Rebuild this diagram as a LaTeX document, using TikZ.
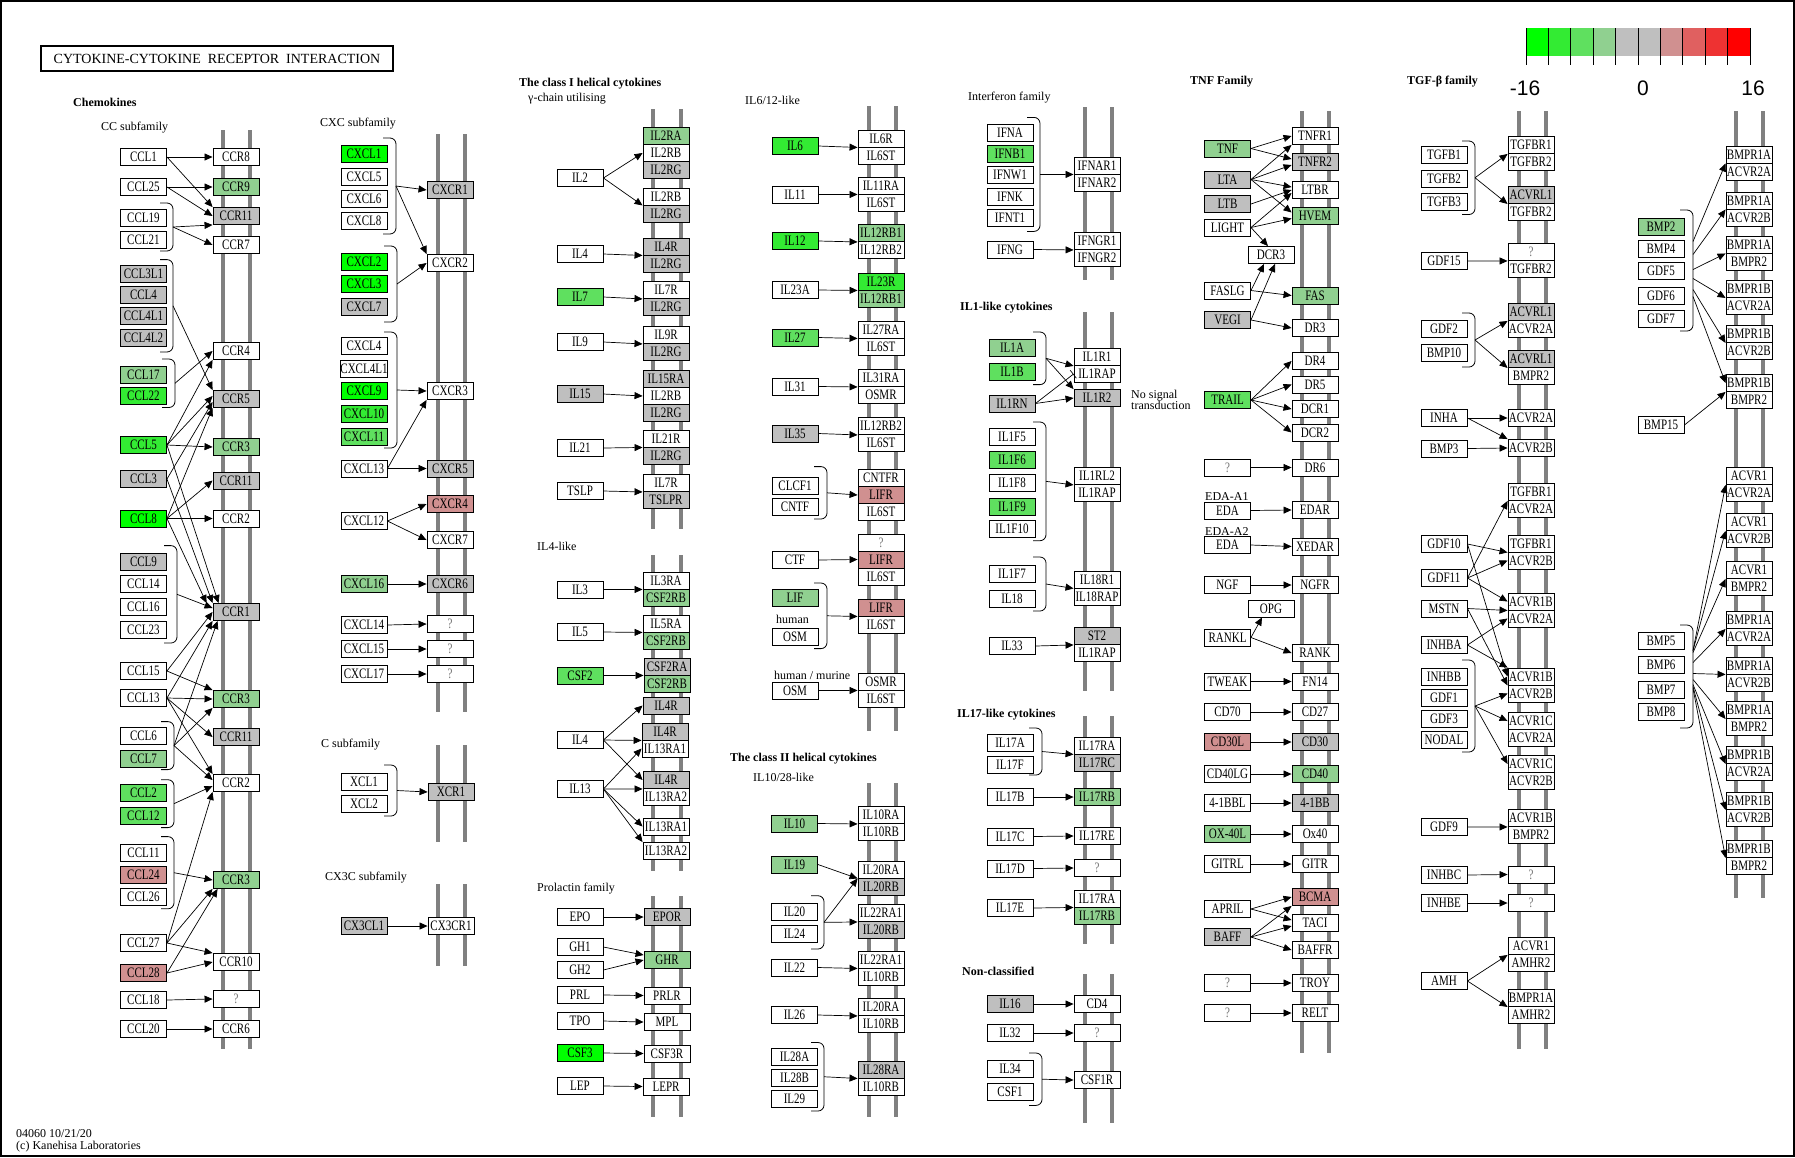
\documentclass[tikz,border=0pt]{standalone}
\usepackage{fontspec}
\setmainfont{Liberation Serif}
\newfontfamily\legfont{Liberation Sans}
\usepackage{graphicx}
\usetikzlibrary{arrows.meta}
\definecolor{ga}{RGB}{0,255,0}
\definecolor{gb}{RGB}{51,235,51}
\definecolor{gc}{RGB}{95,224,95}
\definecolor{gd}{RGB}{144,208,144}
\definecolor{gy}{RGB}{191,191,191}
\definecolor{ra}{RGB}{208,144,144}
\definecolor{rb}{RGB}{224,96,96}
\definecolor{rc}{RGB}{238,50,50}
\definecolor{rd}{RGB}{255,0,0}
\definecolor{memc}{RGB}{128,128,128}
\tikzset{
  bx/.style={draw,line width=0.9pt,minimum width=46pt,minimum height=17pt,inner sep=0pt,font=\fontsize{12}{12}\selectfont},
  ar/.style={-{Triangle[length=8pt,width=7pt]},line width=0.7pt},
  tbar/.style={-{Bar[width=10pt]},line width=0.7pt},
  brk/.style={line width=0.8pt,rounded corners=6pt},
  memb/.style={line width=4pt,draw=memc},
  lab/.style={anchor=west,inner sep=0pt,font=\fontsize{12}{12}\selectfont},
  blab/.style={anchor=west,inner sep=0pt,font=\bfseries\fontsize{12}{12}\selectfont},
  leg/.style={inner sep=0pt,font=\legfont\fontsize{21}{21}\selectfont},
}
\newcommand\kbox[5]{\node[bx,fill=#5] (#1) at (#2,#3) {\scalebox{0.92}[1.2]{#4}};}
\newcommand\kq[3]{\node[bx,fill=white,text=black!55] (#1) at (#2,#3) {\scalebox{0.92}[1.2]{?}};}
\newcommand\kmem[4]{\draw[memb] (#1,#3) -- (#1,#4); \draw[memb] (#2,#3) -- (#2,#4);}
\newcommand\kbr[4]{\draw[brk] ({#2-13},#3) -- (#2,#3) -- (#2,#4) -- ({#2-13},#4); \coordinate (#1) at (#2,{(#3+#4)/2});}
\newcommand\ka[2]{\draw[ar] (#1) -- (#2);}
\begin{document}
\begin{tikzpicture}[x=1pt,y=-1pt]
\useasboundingbox (0,0) rectangle (1795,1157);
\fill[white] (0,0) rectangle (1795,1157);
\draw[line width=2pt] (1,1) rectangle (1794,1156);
% ---------- membranes
\kmem{223}{250}{130}{1049}
\kmem{438}{465}{134}{712}
\kmem{438}{465}{745}{842}
\kmem{438}{465}{884}{966}
\kmem{653}{681}{109}{529}
\kmem{653}{681}{555}{871}
\kmem{653}{681}{896}{1117}
\kmem{869}{896}{106}{731}
\kmem{869}{896}{783}{1117}
\kmem{1085}{1112}{107}{280}
\kmem{1085}{1112}{312}{691}
\kmem{1085}{1112}{716}{944}
\kmem{1085}{1112}{974}{1123}
\kmem{1302}{1329}{111}{1053}
\kmem{1519}{1546}{111}{1049}
\kmem{1736}{1763}{111}{898}
% ---------- title and labels
\node[draw,line width=1.6pt,minimum width=352pt,minimum height=25pt,inner sep=0pt,font=\fontsize{14}{14}\selectfont] (title) at (217,58.5) {CYTOKINE-CYTOKINE\ \ RECEPTOR\ \ INTERACTION};
\node[blab] (lchem) at (73,102) {Chemokines};
\node[lab] (lcc) at (101,128) {CC subfamily};
\node[lab] (lcxc) at (320,124) {CXC subfamily};
\node[lab] (lc) at (321,745) {C subfamily};
\node[lab] (lcx3c) at (325,878) {CX3C subfamily};
\node[blab] (lcl1) at (519,83.5) {The class I helical cytokines};
\node[lab] (lgam) at (528,99) {γ-chain utilising};
\node[lab] (lil4) at (537,546) {IL4-like};
\node[lab] (lprl) at (537,889) {Prolactin family};
\node[lab] (lil6) at (745,100) {IL6/12-like};
\node[lab] (lhum) at (776,619) {human};
\node[lab] (lhm) at (774,675) {human / murine};
\node[blab] (lcl2) at (730,759) {The class II helical cytokines};
\node[lab] (lil10) at (753,777) {IL10/28-like};
\node[lab] (lifn) at (968,98) {Interferon family};
\node[blab] (lil1) at (960,308) {IL1-like cytokines};
\node[lab,align=left,font=\fontsize{12}{11.5}\selectfont] (lnst) at (1131,400) {No signal\\transduction};
\node[blab] (lil17) at (957,715) {IL17-like cytokines};
\node[blab] (lnon) at (962,971) {Non-classified};
\node[blab] (ltnf) at (1190,82) {TNF Family};
\node[blab] (ltgf) at (1407,82) {TGF-β family};
\node[lab] (leda1) at (1205,497) {EDA-A1};
\node[lab] (leda2) at (1205,532) {EDA-A2};
\node[lab,align=left,font=\fontsize{12}{12}\selectfont] (foot) at (16,1140.5) {04060 10/21/20\\(c) Kanehisa Laboratories};
% ---------- legend
\foreach \c [count=\i from 0] in {ga,gb,gc,gd,gy,gy,ra,rb,rc,rd}
  \fill[\c] ({1526+\i*22.4},28) rectangle ({1526+(\i+1)*22.4},56.4);
\foreach \i in {0,...,10} \draw[line width=1pt] ({1526+\i*22.4},28) -- ({1526+\i*22.4},64.7);
\node[leg] (lgm) at (1525,88) {-16};
\node[leg] (lg0) at (1643,88) {0};
\node[leg] (lgp) at (1753,88) {16};
% ========== COLUMN 1: CC
\kbox{CCL1}{143.5}{157}{CCL1}{white}
\kbox{CCL25}{143.5}{187}{CCL25}{white}
\kbox{CCL19}{143.5}{217.5}{CCL19}{white}
\kbox{CCL21}{143.5}{240}{CCL21}{white}
\kbox{CCL3L1}{143.5}{274}{CCL3L1}{gy}
\kbox{CCL4}{143.5}{295}{CCL4}{gy}
\kbox{CCL4L1}{143.5}{316}{CCL4L1}{gy}
\kbox{CCL4L2}{143.5}{338}{CCL4L2}{gy}
\kbox{CCL17}{143.5}{375}{CCL17}{gd}
\kbox{CCL22}{143.5}{396}{CCL22}{gb}
\kbox{CCL5}{143.5}{445}{CCL5}{gb}
\kbox{CCL3}{143.5}{479}{CCL3}{gy}
\kbox{CCL8}{143.5}{518.5}{CCL8}{ga}
\kbox{CCL9}{143.5}{562}{CCL9}{gy}
\kbox{CCL14}{143.5}{584}{CCL14}{white}
\kbox{CCL16}{143.5}{607}{CCL16}{white}
\kbox{CCL23}{143.5}{630}{CCL23}{white}
\kbox{CCL15}{143.5}{671}{CCL15}{white}
\kbox{CCL13}{143.5}{698}{CCL13}{white}
\kbox{CCL6}{143.5}{736}{CCL6}{white}
\kbox{CCL7}{143.5}{759}{CCL7}{gd}
\kbox{CCL2}{143.5}{793}{CCL2}{gc}
\kbox{CCL12}{143.5}{816}{CCL12}{gc}
\kbox{CCL11}{143.5}{853}{CCL11}{white}
\kbox{CCL24}{143.5}{875}{CCL24}{ra}
\kbox{CCL26}{143.5}{897}{CCL26}{white}
\kbox{CCL27}{143.5}{943}{CCL27}{white}
\kbox{CCL28}{143.5}{973}{CCL28}{ra}
\kbox{CCL18}{143.5}{1000}{CCL18}{white}
\kbox{CCL20}{143.5}{1029}{CCL20}{white}
\kbox{CCR8}{236}{157}{CCR8}{white}
\kbox{CCR9}{236}{187}{CCR9}{gd}
\kbox{CCR11}{236}{216}{CCR11}{gy}
\kbox{CCR7}{236}{245}{CCR7}{white}
\kbox{CCR4}{236}{351}{CCR4}{white}
\kbox{CCR5}{236}{399}{CCR5}{gy}
\kbox{CCR3}{236}{447}{CCR3}{gd}
\kbox{CCR11b}{236}{480.5}{CCR11}{gy}
\kbox{CCR2}{236}{518.5}{CCR2}{white}
\kbox{CCR1}{236}{612}{CCR1}{gy}
\kbox{CCR3b}{236}{699}{CCR3}{gd}
\kbox{CCR11c}{236}{737}{CCR11}{gy}
\kbox{CCR2b}{236}{783}{CCR2}{white}
\kbox{CCR3c}{236}{880}{CCR3}{gd}
\kbox{CCR10}{236}{962}{CCR10}{white}
\kq{QCC}{236}{999}
\kbox{CCR6}{236}{1029}{CCR6}{white}
\kbr{b1}{173}{203}{251}
\kbr{b2}{173}{259.6}{352}
\kbr{b3}{175}{359}{407.5}
\kbr{b4}{177}{545.6}{643}
\kbr{b5}{174}{721.6}{769.6}
\kbr{b6}{174}{779.7}{827.6}
\kbr{b7}{174}{836.6}{908.8}
\ka{CCL1.east}{CCR8.west}
\ka{CCL1.east}{CCR11.north west}
\ka{CCL25.east}{CCR9.west}
\ka{CCL25.east}{CCR11.west}
\ka{b1}{CCR11.south west}
\ka{b1}{CCR7.west}
\ka{b2}{CCR5.north west}
\ka{b3}{CCR4.west}
\ka{CCL5.east}{CCR4.south west}
\ka{CCL5.east}{[yshift=3pt]CCR5.west}
\ka{CCL5.east}{CCR3.west}
\ka{CCL5.east}{[xshift=6pt]CCR1.north west}
\ka{CCL3.east}{[yshift=-3pt]CCR5.west}
\ka{CCL3.east}{CCR1.north west}
\ka{CCL8.east}{CCR5.south west}
\ka{CCL8.east}{CCR11b.west}
\ka{CCL8.east}{CCR2.west}
\ka{CCL8.east}{[xshift=-6pt]CCR1.north west}
\ka{b4}{[yshift=4pt]CCR1.west}
\ka{CCL15.east}{CCR1.west}
\ka{CCL13.east}{CCR1.south west}
\ka{b5}{[xshift=5pt]CCR1.south west}
\ka{CCL15.east}{CCR3b.north west}
\ka{CCL13.east}{CCR3b.west}
\ka{CCL13.east}{CCR11c.west}
\ka{CCL13.east}{CCR2b.north west}
\ka{b5}{CCR3b.south west}
\ka{b5}{[yshift=3pt]CCR2b.west}
\ka{b6}{[yshift=-3pt]CCR2b.west}
\ka{CCL27.east}{CCR2b.south west}
\ka{b7}{CCR3c.west}
\ka{CCL27.east}{CCR3c.south west}
\ka{CCL28.east}{[xshift=5pt]CCR3c.south west}
\ka{CCL27.east}{CCR10.north west}
\ka{CCL28.east}{CCR10.west}
\ka{CCL18.east}{QCC.west}
\ka{CCL20.east}{CCR6.west}
% ========== COLUMN 2: CXC, C, CX3C
\kbox{CXCL1}{364}{154}{CXCL1}{ga}
\kbox{CXCL5}{364}{177}{CXCL5}{white}
\kbox{CXCL6}{364}{199}{CXCL6}{white}
\kbox{CXCL8}{364}{221}{CXCL8}{white}
\kbox{CXCL2}{364}{262}{CXCL2}{ga}
\kbox{CXCL3}{364}{284}{CXCL3}{ga}
\kbox{CXCL7}{364}{307}{CXCL7}{gy}
\kbox{CXCL4}{364}{346}{CXCL4}{white}
\kbox{CXCL4L1}{364}{369}{CXCL4L1}{white}
\kbox{CXCL9}{364}{391}{CXCL9}{ga}
\kbox{CXCL10}{364}{414}{CXCL10}{gb}
\kbox{CXCL11}{364}{437}{CXCL11}{gc}
\kbox{CXCL13}{364}{468.5}{CXCL13}{white}
\kbox{CXCL12}{364}{521}{CXCL12}{white}
\kbox{CXCL16}{364}{584}{CXCL16}{gd}
\kbox{CXCL14}{364}{625}{CXCL14}{white}
\kbox{CXCL15}{364}{649}{CXCL15}{white}
\kbox{CXCL17}{364}{674}{CXCL17}{white}
\kbox{XCL1}{364}{781.5}{XCL1}{white}
\kbox{XCL2}{364}{804}{XCL2}{white}
\kbox{CX3CL1}{364}{926}{CX3CL1}{gy}
\kbox{CXCR1}{450}{190}{CXCR1}{gy}
\kbox{CXCR2}{450}{263}{CXCR2}{white}
\kbox{CXCR3}{450}{391}{CXCR3}{white}
\kbox{CXCR5}{450}{468.5}{CXCR5}{gy}
\kbox{CXCR4}{450}{504}{CXCR4}{ra}
\kbox{CXCR7}{450}{540}{CXCR7}{white}
\kbox{CXCR6}{450}{584}{CXCR6}{gy}
\kq{QX1}{450}{624}
\kq{QX2}{450}{649}
\kq{QX3}{450}{674}
\kbox{XCR1}{451}{792}{XCR1}{gy}
\kbox{CX3CR1}{451}{926}{CX3CR1}{white}
\kbr{c1}{396}{138}{234}
\kbr{c2}{397}{246}{322}
\kbr{c3}{397}{332}{448}
\kbr{c4}{397}{765}{816}
\ka{c1}{CXCR1.west}
\ka{c1}{CXCR2.north west}
\ka{c2}{CXCR2.west}
\ka{c3}{CXCR3.west}
\ka{CXCL13.east}{CXCR3.south west}
\ka{CXCL13.east}{CXCR5.west}
\ka{CXCL12.east}{CXCR4.west}
\ka{CXCL12.east}{CXCR7.west}
\ka{CXCL16.east}{CXCR6.west}
\ka{CXCL14.east}{QX1.west}
\ka{CXCL15.east}{QX2.west}
\ka{CXCL17.east}{QX3.west}
\ka{c4}{XCR1.west}
\ka{CX3CL1.east}{CX3CR1.west}
% ========== COLUMN 3: class I helical
\kbox{IL2}{580}{178}{IL2}{white}
\kbox{IL4}{580}{254}{IL4}{white}
\kbox{IL7}{580}{297}{IL7}{gc}
\kbox{IL9}{580}{342}{IL9}{white}
\kbox{IL15}{580}{394}{IL15}{gy}
\kbox{IL21}{580}{448}{IL21}{white}
\kbox{TSLP}{580}{491}{TSLP}{white}
\kbox{IL3}{580}{589.5}{IL3}{white}
\kbox{IL5}{580}{632}{IL5}{white}
\kbox{CSF2}{580}{675.5}{CSF2}{gc}
\kbox{IL4b}{580}{740}{IL4}{white}
\kbox{IL13}{580}{789}{IL13}{white}
\kbox{EPO}{580}{917}{EPO}{white}
\kbox{GH1}{580}{947}{GH1}{white}
\kbox{GH2}{580}{970}{GH2}{white}
\kbox{PRL}{580}{995}{PRL}{white}
\kbox{TPO}{580}{1021}{TPO}{white}
\kbox{CSF3}{580}{1053}{CSF3}{ga}
\kbox{LEP}{580}{1086}{LEP}{white}
\kbox{p1a}{666}{136}{IL2RA}{gd}
\kbox{p1b}{666}{153}{IL2RB}{white}
\kbox{p1c}{666}{170}{IL2RG}{gy}
\kbox{p2a}{666}{196.5}{IL2RB}{white}
\kbox{p2b}{666}{213.5}{IL2RG}{gy}
\kbox{p3a}{666}{246.5}{IL4R}{gy}
\kbox{p3b}{666}{263.5}{IL2RG}{gy}
\kbox{p4a}{666}{290}{IL7R}{white}
\kbox{p4b}{666}{307}{IL2RG}{gy}
\kbox{p5a}{666}{335}{IL9R}{white}
\kbox{p5b}{666}{352}{IL2RG}{gy}
\kbox{p6a}{666}{379}{IL15RA}{gy}
\kbox{p6b}{666}{396}{IL2RB}{white}
\kbox{p6c}{666}{413}{IL2RG}{gy}
\kbox{p7a}{666}{438.5}{IL21R}{white}
\kbox{p7b}{666}{455.5}{IL2RG}{gy}
\kbox{p8a}{666}{483}{IL7R}{white}
\kbox{p8b}{666}{500}{TSLPR}{gy}
\kbox{q1a}{666}{580.5}{IL3RA}{white}
\kbox{q1b}{666}{597.5}{CSF2RB}{gd}
\kbox{q2a}{666}{623.5}{IL5RA}{white}
\kbox{q2b}{666}{640.5}{CSF2RB}{gd}
\kbox{q3a}{667}{666.5}{CSF2RA}{gy}
\kbox{q3b}{667}{683.5}{CSF2RB}{gd}
\kbox{q4}{666}{705.5}{IL4R}{gy}
\kbox{q5a}{665}{731.5}{IL4R}{gy}
\kbox{q5b}{665}{748.5}{IL13RA1}{white}
\kbox{q6a}{666}{780}{IL4R}{gy}
\kbox{q6b}{666}{797}{IL13RA2}{white}
\kbox{q7}{666}{826.5}{IL13RA1}{white}
\kbox{q8}{666}{851}{IL13RA2}{white}
\kbox{EPOR}{667}{917}{EPOR}{gy}
\kbox{GHR}{667}{960}{GHR}{gd}
\kbox{PRLR}{667}{995.5}{PRLR}{white}
\kbox{MPL}{667}{1022}{MPL}{white}
\kbox{CSF3R}{667}{1053.5}{CSF3R}{white}
\kbox{LEPR}{666}{1086.5}{LEPR}{white}
\ka{IL2.east}{p1b.west}
\ka{IL2.east}{p2a.south west}
\ka{IL4.east}{p3a.south west}
\ka{IL7.east}{p4a.south west}
\ka{IL9.east}{p5a.south west}
\ka{IL15.east}{p6b.west}
\ka{IL21.east}{p7a.south west}
\ka{TSLP.east}{p8a.south west}
\ka{IL3.east}{q1a.south west}
\ka{IL5.east}{q2a.south west}
\ka{CSF2.east}{q3a.south west}
\ka{IL4b.east}{q4.west}
\ka{IL4b.east}{q5a.south west}
\ka{IL4b.east}{q6a.west}
\ka{IL13.east}{q5b.west}
\ka{IL13.east}{q6a.south west}
\ka{IL13.east}{q7.west}
\ka{IL13.east}{q8.north west}
\ka{EPO.east}{EPOR.west}
\ka{GH1.east}{[yshift=5pt]GHR.west}
\ka{GH2.east}{GHR.west}
\ka{PRL.east}{PRLR.west}
\ka{TPO.east}{MPL.west}
\ka{CSF3.east}{CSF3R.west}
\ka{LEP.east}{LEPR.west}
% ========== COLUMN 4: IL6/12, class II
\kbox{IL6}{795}{146}{IL6}{gb}
\kbox{IL11}{795}{194.5}{IL11}{white}
\kbox{IL12}{795}{241}{IL12}{gb}
\kbox{IL23A}{795}{290}{IL23A}{white}
\kbox{IL27}{795}{337.5}{IL27}{gc}
\kbox{IL31}{795}{386.5}{IL31}{white}
\kbox{IL35}{795}{433.5}{IL35}{gy}
\kbox{CLCF1}{795}{485.5}{CLCF1}{white}
\kbox{CNTF}{795}{507}{CNTF}{white}
\kbox{CTF}{795}{560}{CTF}{white}
\kbox{LIF}{795}{598}{LIF}{gd}
\kbox{OSM}{795}{636.5}{OSM}{white}
\kbox{OSM2}{795}{690.5}{OSM}{white}
\kbox{IL10}{794.5}{823.5}{IL10}{gd}
\kbox{IL19}{794.5}{864.5}{IL19}{gd}
\kbox{IL20}{794.5}{912}{IL20}{white}
\kbox{IL24}{794.5}{934}{IL24}{white}
\kbox{IL22}{794.5}{967.5}{IL22}{white}
\kbox{IL26}{794.5}{1015}{IL26}{white}
\kbox{IL28A}{794.5}{1056.5}{IL28A}{white}
\kbox{IL28B}{794.5}{1078}{IL28B}{white}
\kbox{IL29}{794.5}{1099}{IL29}{white}
\kbox{e1a}{881}{138.5}{IL6R}{white}
\kbox{e1b}{881}{155.5}{IL6ST}{white}
\kbox{e2a}{881}{185.5}{IL11RA}{white}
\kbox{e2b}{881}{202.5}{IL6ST}{white}
\kbox{e3a}{881}{233}{IL12RB1}{gd}
\kbox{e3b}{881}{250}{IL12RB2}{white}
\kbox{e4a}{881}{281.5}{IL23R}{gb}
\kbox{e4b}{881}{298.5}{IL12RB1}{gd}
\kbox{e5a}{881}{329.5}{IL27RA}{white}
\kbox{e5b}{881}{346.5}{IL6ST}{white}
\kbox{e6a}{881}{378}{IL31RA}{white}
\kbox{e6b}{881}{395}{OSMR}{white}
\kbox{e7a}{881}{426}{IL12RB2}{white}
\kbox{e7b}{881}{443}{IL6ST}{white}
\kbox{e8a}{881}{478}{CNTFR}{white}
\kbox{e8b}{881}{495}{LIFR}{ra}
\kbox{e8c}{881}{512}{IL6ST}{white}
\kq{e9a}{881}{542.5}
\kbox{e9b}{881}{559.5}{LIFR}{ra}
\kbox{e9c}{881}{576.5}{IL6ST}{white}
\kbox{e10a}{881}{607.5}{LIFR}{ra}
\kbox{e10b}{881}{624.5}{IL6ST}{white}
\kbox{e11a}{881}{681.5}{OSMR}{white}
\kbox{e11b}{881}{698.5}{IL6ST}{white}
\kbox{g1a}{881}{815}{IL10RA}{white}
\kbox{g1b}{881}{832}{IL10RB}{white}
\kbox{g2a}{881}{869.5}{IL20RA}{white}
\kbox{g2b}{881}{886.5}{IL20RB}{gy}
\kbox{g3a}{881}{913}{IL22RA1}{white}
\kbox{g3b}{881}{930}{IL20RB}{gy}
\kbox{g4a}{881}{959.5}{IL22RA1}{white}
\kbox{g4b}{881}{976.5}{IL10RB}{white}
\kbox{g5a}{881}{1007}{IL20RA}{white}
\kbox{g5b}{881}{1024}{IL10RB}{white}
\kbox{g6a}{881}{1069.5}{IL28RA}{gy}
\kbox{g6b}{881}{1086.5}{IL10RB}{white}
\kbr{f1}{827}{466.6}{519}
\kbr{f2}{827}{583}{648.6}
\kbr{f3}{824}{895.7}{949}
\kbr{f4}{824}{1042.5}{1111}
\ka{IL6.east}{e1a.south west}
\ka{IL11.east}{e2a.south west}
\ka{IL12.east}{e3a.south west}
\ka{IL23A.east}{e4a.south west}
\ka{IL27.east}{e5a.south west}
\ka{IL31.east}{e6a.south west}
\ka{IL35.east}{e7a.south west}
\ka{f1}{e8b.west}
\ka{CTF.east}{e9b.west}
\ka{f2}{e10a.south west}
\ka{OSM2.east}{e11a.south west}
\ka{IL10.east}{g1a.south west}
\ka{IL19.east}{g2a.south west}
\ka{f3}{g2a.south west}
\ka{f3}{g3a.south west}
\ka{IL22.east}{g4a.south west}
\ka{IL26.east}{g5a.south west}
\ka{f4}{g6a.south west}
% ========== COLUMN 5: IFN, IL1, IL17, non-classified
\kbox{IFNA}{1010}{132.5}{IFNA}{white}
\kbox{IFNB1}{1010}{153.5}{IFNB1}{gc}
\kbox{IFNW1}{1010}{175}{IFNW1}{white}
\kbox{IFNK}{1010}{196.5}{IFNK}{white}
\kbox{IFNT1}{1010}{218}{IFNT1}{white}
\kbox{IFNG}{1010}{249.5}{IFNG}{white}
\kbox{IL1A}{1012}{348}{IL1A}{gd}
\kbox{IL1B}{1012}{372}{IL1B}{gc}
\kbox{IL1RN}{1012}{403.5}{IL1RN}{gy}
\kbox{IL1F5}{1012}{437}{IL1F5}{white}
\kbox{IL1F6}{1012}{460}{IL1F6}{gc}
\kbox{IL1F8}{1012}{482.5}{IL1F8}{white}
\kbox{IL1F9}{1012}{507}{IL1F9}{gc}
\kbox{IL1F10}{1012}{529}{IL1F10}{white}
\kbox{IL1F7}{1012}{574}{IL1F7}{white}
\kbox{IL18}{1012}{599}{IL18}{white}
\kbox{IL33}{1012}{646}{IL33}{white}
\kbox{IL17A}{1010}{743}{IL17A}{white}
\kbox{IL17F}{1010}{765}{IL17F}{white}
\kbox{IL17B}{1010}{797}{IL17B}{white}
\kbox{IL17C}{1010}{836.5}{IL17C}{white}
\kbox{IL17D}{1010}{868.5}{IL17D}{white}
\kbox{IL17E}{1010}{908}{IL17E}{white}
\kbox{IL16}{1010}{1004}{IL16}{gy}
\kbox{IL32}{1010}{1033}{IL32}{white}
\kbox{IL34}{1010}{1068.5}{IL34}{white}
\kbox{CSF1}{1010}{1091.5}{CSF1}{white}
\kbox{h1a}{1097}{165.5}{IFNAR1}{white}
\kbox{h1b}{1097}{182.5}{IFNAR2}{white}
\kbox{h2a}{1097}{241}{IFNGR1}{white}
\kbox{h2b}{1097}{258}{IFNGR2}{white}
\kbox{h3a}{1097}{357}{IL1R1}{white}
\kbox{h3b}{1097}{374}{IL1RAP}{white}
\kbox{IL1R2}{1097}{398}{IL1R2}{gy}
\kbox{h4a}{1097}{476}{IL1RL2}{white}
\kbox{h4b}{1097}{493}{IL1RAP}{white}
\kbox{h5a}{1097}{579.5}{IL18R1}{white}
\kbox{h5b}{1097}{596.5}{IL18RAP}{white}
\kbox{h6a}{1097}{636}{ST2}{gy}
\kbox{h6b}{1097}{653}{IL1RAP}{white}
\kbox{h7a}{1097}{745.5}{IL17RA}{white}
\kbox{h7b}{1097}{762.5}{IL17RC}{gy}
\kbox{IL17RB}{1097}{797}{IL17RB}{gd}
\kbox{IL17RE}{1097}{836}{IL17RE}{white}
\kq{QIL17}{1097}{868}
\kbox{h8a}{1097}{898.5}{IL17RA}{white}
\kbox{h8b}{1097}{915.5}{IL17RB}{gd}
\kbox{CD4}{1097}{1004}{CD4}{white}
\kq{QIL32}{1097}{1033}
\kbox{CSF1R}{1097}{1080}{CSF1R}{white}
\kbr{k1}{1040}{117.4}{231.4}
\kbr{k2}{1046}{332}{384.6}
\kbr{k3}{1046}{422}{540.7}
\kbr{k4}{1046}{557}{611}
\kbr{k5}{1042}{728}{775}
\kbr{k6}{1042}{1053}{1105.4}
\ka{k1}{h1a.south west}
\ka{IFNG.east}{h2a.south west}
\ka{k2}{h3a.south west}
\ka{k2}{IL1R2.north west}
\ka{IL1RN.east}{IL1R2.west}
\draw[tbar] (IL1RN.east) -- (h3b.west);
\ka{k3}{h4a.south west}
\ka{k4}{h5a.south west}
\ka{IL33.east}{h6a.south west}
\ka{k5}{h7a.south west}
\ka{IL17B.east}{IL17RB.west}
\ka{IL17C.east}{IL17RE.west}
\ka{IL17D.east}{QIL17.west}
\ka{IL17E.east}{h8a.south west}
\ka{IL16.east}{CD4.west}
\ka{IL32.east}{QIL32.west}
\ka{k6}{CSF1R.west}
% ========== COLUMN 6: TNF
\kbox{TNF}{1227.5}{148.5}{TNF}{gd}
\kbox{LTA}{1227.5}{179.5}{LTA}{gy}
\kbox{LTB}{1227.5}{204}{LTB}{gy}
\kbox{LIGHT}{1227.5}{227.5}{LIGHT}{white}
\kbox{DCR3}{1271}{255}{DCR3}{white}
\kbox{FASLG}{1227.5}{290.5}{FASLG}{white}
\kbox{VEGI}{1227.5}{320}{VEGI}{gy}
\kbox{TRAIL}{1227.5}{400}{TRAIL}{gc}
\kq{tq1}{1227.5}{467.5}
\kbox{EDA}{1227.5}{510.5}{EDA}{white}
\kbox{EDA2}{1227.5}{545}{EDA}{white}
\kbox{NGF}{1227.5}{585}{NGF}{white}
\kbox{OPG}{1271}{608.5}{OPG}{white}
\kbox{RANKL}{1227.5}{637.5}{RANKL}{white}
\kbox{TWEAK}{1227.5}{681.5}{TWEAK}{white}
\kbox{CD70}{1227.5}{712}{CD70}{white}
\kbox{CD30L}{1227.5}{742}{CD30L}{ra}
\kbox{CD40LG}{1227.5}{774}{CD40LG}{white}
\kbox{BBL}{1227.5}{803}{4-1BBL}{white}
\kbox{OX40L}{1227.5}{834}{OX-40L}{gd}
\kbox{GITRL}{1227.5}{864}{GITRL}{white}
\kbox{APRIL}{1227.5}{909}{APRIL}{white}
\kbox{BAFF}{1227.5}{937}{BAFF}{gy}
\kq{tq2}{1227.5}{983}
\kq{tq3}{1227.5}{1013}
\kbox{TNFR1}{1315}{136}{TNFR1}{white}
\kbox{TNFR2}{1315}{162}{TNFR2}{gy}
\kbox{LTBR}{1315}{190}{LTBR}{white}
\kbox{HVEM}{1315}{215.5}{HVEM}{gd}
\kbox{FAS}{1315}{295.5}{FAS}{gd}
\kbox{DR3}{1315}{328}{DR3}{white}
\kbox{DR4}{1315}{361}{DR4}{white}
\kbox{DR5}{1315}{384.5}{DR5}{white}
\kbox{DCR1}{1315}{409}{DCR1}{white}
\kbox{DCR2}{1315}{432.5}{DCR2}{white}
\kbox{DR6}{1315}{467.5}{DR6}{white}
\kbox{EDAR}{1315}{510}{EDAR}{white}
\kbox{XEDAR}{1315}{546.5}{XEDAR}{white}
\kbox{NGFR}{1315}{585}{NGFR}{white}
\kbox{RANK}{1315}{653}{RANK}{white}
\kbox{FN14}{1315}{681.5}{FN14}{white}
\kbox{CD27}{1315}{712}{CD27}{white}
\kbox{CD30}{1315}{742}{CD30}{gy}
\kbox{CD40}{1315}{774}{CD40}{gd}
\kbox{BB}{1315}{803}{4-1BB}{gy}
\kbox{Ox40}{1315}{834}{Ox40}{white}
\kbox{GITR}{1315}{864}{GITR}{white}
\kbox{BCMA}{1315}{897}{BCMA}{ra}
\kbox{TACI}{1315}{923}{TACI}{white}
\kbox{BAFFR}{1315}{950}{BAFFR}{white}
\kbox{TROY}{1315}{983}{TROY}{white}
\kbox{RELT}{1315}{1013}{RELT}{white}
\ka{TNF.east}{TNFR1.west}
\ka{TNF.east}{[yshift=3pt]TNFR2.west}
\ka{LTA.east}{TNFR1.south west}
\ka{LTA.east}{[yshift=-3pt]TNFR2.west}
\ka{LTA.east}{[yshift=3pt]LTBR.west}
\ka{LTA.east}{[yshift=3pt]HVEM.west}
\ka{LTB.east}{LTBR.west}
\ka{LIGHT.east}{[yshift=-3pt]LTBR.west}
\ka{LIGHT.east}{[yshift=-3pt]HVEM.west}
\ka{LIGHT.east}{[xshift=-3pt]DCR3.north}
\ka{FASLG.east}{[xshift=-7pt]DCR3.south}
\ka{VEGI.east}{[xshift=4pt]DCR3.south}
\ka{FASLG.east}{FAS.west}
\ka{VEGI.east}{DR3.west}
\ka{TRAIL.east}{DR4.west}
\ka{TRAIL.east}{DR5.west}
\ka{TRAIL.east}{DCR1.west}
\ka{TRAIL.east}{DCR2.west}
\ka{tq1.east}{DR6.west}
\ka{EDA.east}{EDAR.west}
\ka{EDA2.east}{XEDAR.west}
\ka{NGF.east}{NGFR.west}
\ka{RANKL.east}{[xshift=-9pt]OPG.south}
\ka{RANKL.east}{RANK.west}
\ka{TWEAK.east}{FN14.west}
\ka{CD70.east}{CD27.west}
\ka{CD30L.east}{CD30.west}
\ka{CD40LG.east}{CD40.west}
\ka{BBL.east}{BB.west}
\ka{OX40L.east}{Ox40.west}
\ka{GITRL.east}{GITR.west}
\ka{APRIL.east}{BCMA.west}
\ka{APRIL.east}{[yshift=3pt]TACI.west}
\ka{BAFF.east}{BCMA.south west}
\ka{BAFF.east}{[yshift=-3pt]TACI.west}
\ka{BAFF.east}{BAFFR.west}
\ka{tq2.east}{TROY.west}
\ka{tq3.east}{RELT.west}
% ========== COLUMN 7: TGF-beta
\kbox{TGFB1}{1444}{154.5}{TGFB1}{white}
\kbox{TGFB2}{1444}{178.5}{TGFB2}{white}
\kbox{TGFB3}{1444}{202}{TGFB3}{white}
\kbox{GDF15}{1444}{261}{GDF15}{white}
\kbox{GDF2}{1444}{329}{GDF2}{white}
\kbox{BMP10}{1444}{352.5}{BMP10}{white}
\kbox{INHA}{1444}{418}{INHA}{white}
\kbox{BMP3}{1444}{448.5}{BMP3}{white}
\kbox{GDF10}{1444}{544}{GDF10}{white}
\kbox{GDF11}{1444}{578}{GDF11}{white}
\kbox{MSTN}{1444}{608.5}{MSTN}{white}
\kbox{INHBA}{1444}{645}{INHBA}{white}
\kbox{INHBB}{1444}{676.5}{INHBB}{white}
\kbox{GDF1}{1444}{697.5}{GDF1}{white}
\kbox{GDF3}{1444}{719}{GDF3}{white}
\kbox{NODAL}{1444}{740}{NODAL}{white}
\kbox{GDF9}{1444}{827}{GDF9}{white}
\kbox{INHBC}{1444}{875}{INHBC}{white}
\kbox{INHBE}{1444}{903}{INHBE}{white}
\kbox{AMH}{1444}{981}{AMH}{white}
\kbox{m1a}{1531}{145}{TGFBR1}{white}
\kbox{m1b}{1531}{162}{TGFBR2}{white}
\kbox{m2a}{1531}{195}{ACVRL1}{gy}
\kbox{m2b}{1531}{212}{TGFBR2}{white}
\kq{m3a}{1531}{252}
\kbox{m3b}{1531}{269}{TGFBR2}{white}
\kbox{m4a}{1531}{312}{ACVRL1}{gy}
\kbox{m4b}{1531}{329}{ACVR2A}{white}
\kbox{m5a}{1531}{359}{ACVRL1}{gy}
\kbox{m5b}{1531}{376}{BMPR2}{white}
\kbox{ACVR2As}{1531}{418}{ACVR2A}{white}
\kbox{ACVR2Bs}{1531}{448}{ACVR2B}{white}
\kbox{m6a}{1531}{492}{TGFBR1}{white}
\kbox{m6b}{1531}{509}{ACVR2A}{white}
\kbox{m7a}{1531}{543.5}{TGFBR1}{white}
\kbox{m7b}{1531}{560.5}{ACVR2B}{white}
\kbox{m8a}{1531}{601.5}{ACVR1B}{white}
\kbox{m8b}{1531}{618.5}{ACVR2A}{white}
\kbox{m9a}{1531}{676.5}{ACVR1B}{white}
\kbox{m9b}{1531}{693.5}{ACVR2B}{white}
\kbox{m10a}{1531}{721}{ACVR1C}{white}
\kbox{m10b}{1531}{738}{ACVR2A}{white}
\kbox{m11a}{1531}{764}{ACVR1C}{white}
\kbox{m11b}{1531}{781}{ACVR2B}{white}
\kbox{m12a}{1531}{818}{ACVR1B}{white}
\kbox{m12b}{1531}{835}{BMPR2}{white}
\kq{mq1}{1531}{874.5}
\kq{mq2}{1531}{903}
\kbox{m13a}{1531}{946}{ACVR1}{white}
\kbox{m13b}{1531}{963}{AMHR2}{white}
\kbox{m14a}{1531}{998}{BMPR1A}{white}
\kbox{m14b}{1531}{1015}{AMHR2}{white}
\kbox{BMP2}{1661}{227}{BMP2}{gd}
\kbox{BMP4}{1661}{249}{BMP4}{white}
\kbox{GDF5}{1661}{271}{GDF5}{white}
\kbox{GDF6}{1661}{295.5}{GDF6}{white}
\kbox{GDF7}{1661}{319}{GDF7}{white}
\kbox{BMP15}{1661}{425}{BMP15}{white}
\kbox{BMP5}{1661}{641}{BMP5}{white}
\kbox{BMP6}{1661}{665}{BMP6}{white}
\kbox{BMP7}{1661}{690}{BMP7}{white}
\kbox{BMP8}{1661}{712}{BMP8}{white}
\kbox{n1a}{1749}{154.5}{BMPR1A}{white}
\kbox{n1b}{1749}{171.5}{ACVR2A}{white}
\kbox{n2a}{1749}{200.5}{BMPR1A}{white}
\kbox{n2b}{1749}{217.5}{ACVR2B}{white}
\kbox{n3a}{1749}{244.5}{BMPR1A}{white}
\kbox{n3b}{1749}{261.5}{BMPR2}{white}
\kbox{n4a}{1749}{289}{BMPR1B}{white}
\kbox{n4b}{1749}{306}{ACVR2A}{white}
\kbox{n5a}{1749}{334}{BMPR1B}{white}
\kbox{n5b}{1749}{351}{ACVR2B}{white}
\kbox{n6a}{1749}{383}{BMPR1B}{white}
\kbox{n6b}{1749}{400}{BMPR2}{white}
\kbox{n7a}{1749}{476}{ACVR1}{white}
\kbox{n7b}{1749}{493}{ACVR2A}{white}
\kbox{n8a}{1749}{522}{ACVR1}{white}
\kbox{n8b}{1749}{539}{ACVR2B}{white}
\kbox{n9a}{1749}{570}{ACVR1}{white}
\kbox{n9b}{1749}{587}{BMPR2}{white}
\kbox{n10a}{1749}{620}{BMPR1A}{white}
\kbox{n10b}{1749}{637}{ACVR2A}{white}
\kbox{n11a}{1749}{665.5}{BMPR1A}{white}
\kbox{n11b}{1749}{682.5}{ACVR2B}{white}
\kbox{n12a}{1749}{710}{BMPR1A}{white}
\kbox{n12b}{1749}{727}{BMPR2}{white}
\kbox{n13a}{1749}{755}{BMPR1B}{white}
\kbox{n13b}{1749}{772}{ACVR2A}{white}
\kbox{n14a}{1749}{801}{BMPR1B}{white}
\kbox{n14b}{1749}{818}{ACVR2B}{white}
\kbox{n15a}{1749}{849}{BMPR1B}{white}
\kbox{n15b}{1749}{866}{BMPR2}{white}
\kbr{t1}{1475}{141}{214.5}
\kbr{t2}{1475}{313}{367}
\kbr{t3}{1475}{660}{752}
\kbr{t4}{1693}{210}{331}
\kbr{t5}{1693}{625}{728}
\ka{t1}{m1a.south west}
\ka{t1}{m2a.south west}
\ka{GDF15.east}{m3a.south west}
\ka{t2}{m4a.south west}
\ka{t2}{m5a.south west}
\ka{INHA.east}{ACVR2As.west}
\ka{INHA.east}{ACVR2Bs.north west}
\ka{BMP3.east}{ACVR2Bs.west}
\ka{GDF10.east}{m7a.south west}
\ka{GDF10.east}{m9a.west}
\ka{GDF11.east}{m6a.south west}
\ka{GDF11.east}{m7b.west}
\ka{GDF11.east}{m8a.west}
\ka{MSTN.east}{m8a.south west}
\ka{MSTN.east}{m9a.south west}
\ka{INHBA.east}{m8b.west}
\ka{INHBA.east}{m9a.north west}
\ka{t3}{m9b.west}
\ka{t3}{m10a.west}
\ka{t3}{m11a.west}
\ka{GDF9.east}{m12a.south west}
\ka{INHBC.east}{mq1.west}
\ka{INHBE.east}{mq2.west}
\ka{AMH.east}{m13a.south west}
\ka{AMH.east}{m14a.south west}
\ka{[yshift=29pt]t4}{n1a.south west}
\ka{[yshift=16pt]t4}{n2a.south west}
\ka{[yshift=1pt]t4}{n3a.south west}
\ka{[yshift=-8pt]t4}{n4a.south west}
\ka{[yshift=-19pt]t4}{n5a.south west}
\ka{[yshift=-26pt]t4}{n6a.west}
\ka{BMP15.east}{n6a.south west}
\ka{[yshift=26pt]t5}{n7a.south west}
\ka{[yshift=26pt]t5}{n8a.south west}
\ka{[yshift=24pt]t5}{n9a.south west}
\ka{[yshift=14pt]t5}{n10a.south west}
\ka{[yshift=3pt]t5}{n11a.south west}
\ka{[yshift=-3pt]t5}{n12a.south west}
\ka{[yshift=-8pt]t5}{n13a.south west}
\ka{[yshift=-10pt]t5}{n14a.south west}
\ka{[yshift=-12pt]t5}{n15a.south west}
\end{tikzpicture}
\end{document}
